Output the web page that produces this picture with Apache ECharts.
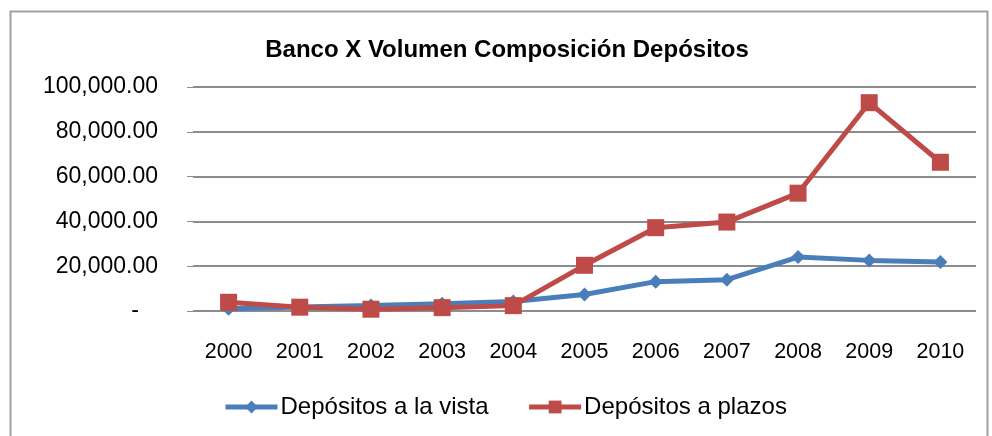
<!DOCTYPE html>
<html>
<head>
<meta charset="utf-8">
<script src="https://cdn.jsdelivr.net/npm/echarts@6/dist/echarts.min.js"></script>
<style>
  html, body { margin: 0; padding: 0; background: #fff; }
  #chart { width: 992px; height: 436px; }
</style>
</head>
<body>
<div id="chart"></div>
<script>
// datos
var years = ['2000', '2001', '2002', '2003', '2004', '2005', '2006', '2007', '2008', '2009', '2010'];
var vista = [1000, 1800, 2400, 3200, 4200, 7400, 13100, 14000, 24100, 22600, 21900];
var plazos = [3900, 1700, 800, 1500, 2400, 20400, 37200, 39700, 52600, 93000, 66400];
var yTicks = [0, 20000, 40000, 60000, 80000, 100000];

var chart = echarts.init(document.getElementById('chart'));
var font = "'Liberation Sans', Arial, sans-serif";

option = {
    animation: false,
    backgroundColor: '#fff',
    textStyle: { fontFamily: font },
    graphic: [{
        type: 'rect',
        shape: { x: 10.5, y: 11.5, width: 977, height: 440 },
        style: { fill: 'none', stroke: '#a0a0a0', lineWidth: 2 }
    }],
    title: {
        text: 'Banco X Volumen Composición Depósitos',
        left: 502,
        textAlign: 'center',
        top: 33,
        textStyle: { fontFamily: font, fontSize: 24, fontWeight: 'bold', color: '#000' }
    },
    legend: {
        bottom: 12,
        left: 218,
        data: ['Depósitos a la vista', 'Depósitos a plazos'],
        itemWidth: 52,
        itemHeight: 16,
        itemGap: 38,
        lineStyle: { width: 5 },
        textStyle: { fontFamily: font, fontSize: 24, color: '#000', padding: [0, 0, 0, -2] }
    },
    grid: { left: 193, right: 16, top: 87, bottom: 125 },
    xAxis: {
        type: 'category',
        data: years,
        boundaryGap: true,
        axisLine: { show: false },
        axisTick: { show: false },
        axisLabel: { fontSize: 21.5, color: '#000', margin: 30, fontFamily: font }
    },
    yAxis: {
        type: 'value',
        min: yTicks[0],
        max: yTicks[yTicks.length - 1],
        interval: 20000,
        axisLine: { show: false },
        axisTick: { show: true, length: 6, lineStyle: { color: '#8c8c8c' } },
        splitLine: { lineStyle: { color: '#8c8c8c', width: 2 } },
        axisLabel: {
            fontSize: 23, color: '#000', margin: 35, fontFamily: font,
            formatter: function (v) {
                if (v === 0) return '-   ';
                return v.toLocaleString('en-US', { minimumFractionDigits: 2, maximumFractionDigits: 2 });
            }
        }
    },
    series: [{
        name: 'Depósitos a la vista',
        type: 'line',
        data: vista,
        symbol: 'diamond',
        symbolSize: 14,
        lineStyle: { width: 5, color: '#4a7ebb' },
        itemStyle: { color: '#4a7ebb' }
    }, {
        name: 'Depósitos a plazos',
        type: 'line',
        data: plazos,
        symbol: 'rect',
        symbolSize: 17,
        lineStyle: { width: 5, color: '#be4b48' },
        itemStyle: { color: '#be4b48' }
    }]
};

chart.setOption(option);
</script>
</body>
</html>
